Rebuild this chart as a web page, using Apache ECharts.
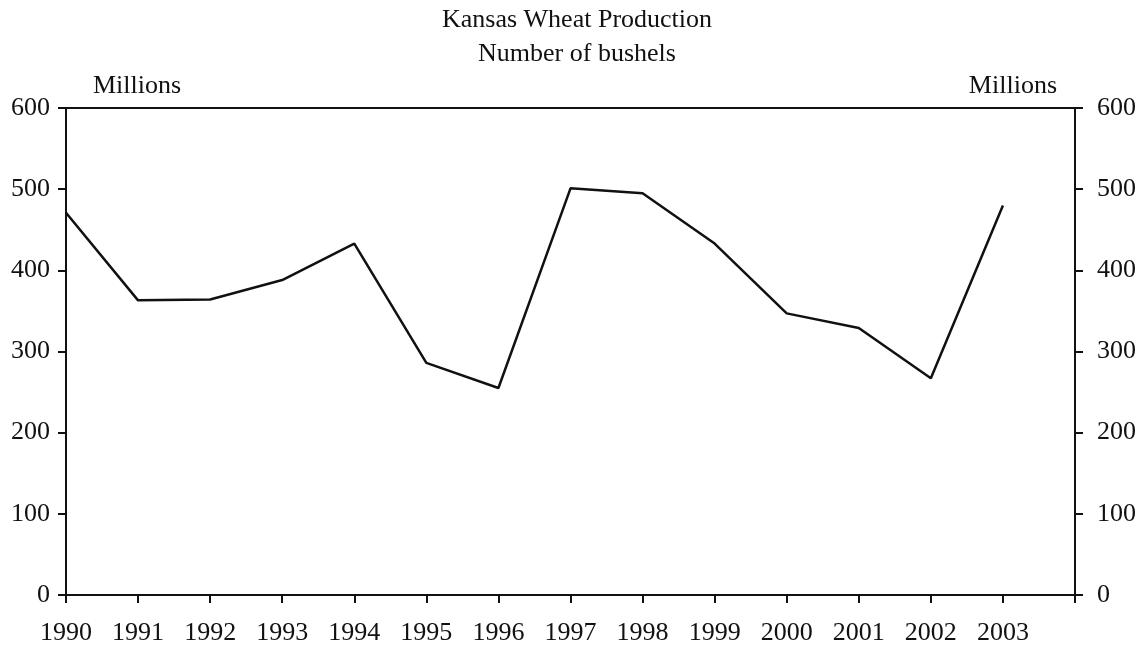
<!DOCTYPE html>
<html>
<head>
<meta charset="utf-8">
<script src="https://cdn.jsdelivr.net/npm/echarts@6/dist/echarts.min.js"></script>
<style>
  html, body { margin: 0; padding: 0; background: #fff; }
  #chart { width: 1142px; height: 650px; }
</style>
</head>
<body>
<div id="chart"></div>
<script>
// 年份 & 产量（百万蒲式耳）
var years = [1990, 1991, 1992, 1993, 1994, 1995, 1996, 1997, 1998, 1999, 2000, 2001, 2002, 2003];
var bushels = [471, 363, 364, 388, 433, 286, 255, 501, 495, 433, 347, 329, 267, 480];
var yTicks = [0, 100, 200, 300, 400, 500, 600];

var chart = echarts.init(document.getElementById('chart'));
var font = 'Liberation Serif';
var fs = 26;

var points = years.map(function (y, i) { return [y, bushels[i]]; });

var yAxisBase = function (pos, nameAlign, namePad) {
  return {
    type: 'value',
    position: pos,
    min: yTicks[0],
    max: yTicks[yTicks.length - 1],
    interval: 100,
    name: 'Millions',
    nameLocation: 'end',
    nameGap: 9,
    nameTextStyle: { fontFamily: font, fontSize: fs, color: '#111', align: nameAlign, padding: namePad },
    axisLine: { show: true, lineStyle: { color: '#111', width: 2 } },
    axisTick: { show: true, length: 8, lineStyle: { color: '#111', width: 2 } },
    axisLabel: { fontFamily: font, fontSize: fs, color: '#111', margin: pos === 'left' ? 16 : 22 },
    splitLine: { show: false }
  };
};

var option = {
  backgroundColor: '#fff',
  animation: false,
  title: {
    text: 'Kansas Wheat Production\nNumber of bushels',
    left: 577,
    top: 3,
    padding: 0,
    textAlign: 'center',
    textStyle: { fontFamily: font, fontSize: fs, fontWeight: 'normal', color: '#111', lineHeight: 34 }
  },
  grid: {
    left: 66, right: 67, top: 108, bottom: 55,
    show: true, borderColor: '#111', borderWidth: 2
  },
  xAxis: {
    type: 'value',
    min: 1990,
    max: 2004,
    interval: 1,
    axisLine: { show: true, lineStyle: { color: '#111', width: 2 } },
    axisTick: { show: true, length: 8, lineStyle: { color: '#111', width: 2 } },
    axisLabel: {
      fontFamily: font, fontSize: fs, color: '#111', margin: 25,
      formatter: function (v) { return v === 2004 ? '' : String(v); }
    },
    splitLine: { show: false }
  },
  yAxis: [
    yAxisBase('left', 'left', [0, 0, 0, 27]),
    yAxisBase('right', 'right', [0, 18, 0, 0])
  ],
  series: [{
    type: 'line',
    data: points,
    symbol: 'none',
    lineStyle: { color: '#111', width: 2.5 }
  }]
};
chart.setOption(option);
</script>
</body>
</html>
